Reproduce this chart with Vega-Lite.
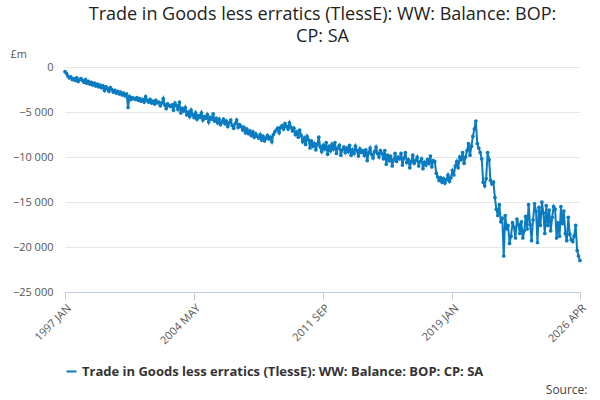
{"$schema":"https://vega.github.io/schema/vega-lite/v6.json","width":515,"height":225,"padding":{"left":10,"top":6,"right":17,"bottom":0},"autosize":{"type":"pad"},
"title":{"text":["Trade in Goods less erratics (TlessE): WW: Balance: BOP:","CP: SA"],"font":"Open Sans","fontSize":18,"fontWeight":500,"color":"#222","offset":2,"lineHeight":22},
"config":{"view":{"stroke":null},"font":"Open Sans"},
"data":{"values":[
{"d":"1997-01","v":-500},{"d":"1997-02","v":-700},{"d":"1997-03","v":-1000},{"d":"1997-04","v":-1200},{"d":"1997-05","v":-1100},{"d":"1997-06","v":-1400},{"d":"1997-07","v":-1300},{"d":"1997-08","v":-1500},{"d":"1997-09","v":-1200},{"d":"1997-10","v":-1600},{"d":"1997-11","v":-1400},{"d":"1997-12","v":-1300},
{"d":"1998-01","v":-1500},{"d":"1998-02","v":-1700},{"d":"1998-03","v":-1400},{"d":"1998-04","v":-1800},{"d":"1998-05","v":-1600},{"d":"1998-06","v":-1900},{"d":"1998-07","v":-1700},{"d":"1998-08","v":-2000},{"d":"1998-09","v":-1800},{"d":"1998-10","v":-2100},{"d":"1998-11","v":-1900},{"d":"1998-12","v":-2200},
{"d":"1999-01","v":-2000},{"d":"1999-02","v":-2300},{"d":"1999-03","v":-2100},{"d":"1999-04","v":-2600},{"d":"1999-05","v":-2200},{"d":"1999-06","v":-2400},{"d":"1999-07","v":-2700},{"d":"1999-08","v":-2300},{"d":"1999-09","v":-2500},{"d":"1999-10","v":-2800},{"d":"1999-11","v":-2600},{"d":"1999-12","v":-2900},
{"d":"2000-01","v":-2700},{"d":"2000-02","v":-3000},{"d":"2000-03","v":-2800},{"d":"2000-04","v":-3100},{"d":"2000-05","v":-2900},{"d":"2000-06","v":-3200},{"d":"2000-07","v":-3000},{"d":"2000-08","v":-4500},{"d":"2000-09","v":-3300},{"d":"2000-10","v":-3600},{"d":"2000-11","v":-3400},{"d":"2000-12","v":-3500},
{"d":"2001-01","v":-3600},{"d":"2001-02","v":-3400},{"d":"2001-03","v":-3700},{"d":"2001-04","v":-3500},{"d":"2001-05","v":-3800},{"d":"2001-06","v":-3600},{"d":"2001-07","v":-3900},{"d":"2001-08","v":-3300},{"d":"2001-09","v":-3700},{"d":"2001-10","v":-3900},{"d":"2001-11","v":-3600},{"d":"2001-12","v":-4000},
{"d":"2002-01","v":-3800},{"d":"2002-02","v":-4100},{"d":"2002-03","v":-3700},{"d":"2002-04","v":-4000},{"d":"2002-05","v":-3900},{"d":"2002-06","v":-4300},{"d":"2002-07","v":-4000},{"d":"2002-08","v":-3500},{"d":"2002-09","v":-4200},{"d":"2002-10","v":-4600},{"d":"2002-11","v":-4100},{"d":"2002-12","v":-4300},
{"d":"2003-01","v":-4400},{"d":"2003-02","v":-4200},{"d":"2003-03","v":-4800},{"d":"2003-04","v":-4000},{"d":"2003-05","v":-4300},{"d":"2003-06","v":-4700},{"d":"2003-07","v":-3900},{"d":"2003-08","v":-5100},{"d":"2003-09","v":-4600},{"d":"2003-10","v":-4900},{"d":"2003-11","v":-4500},{"d":"2003-12","v":-5300},
{"d":"2004-01","v":-5000},{"d":"2004-02","v":-5500},{"d":"2004-03","v":-4800},{"d":"2004-04","v":-5300},{"d":"2004-05","v":-5600},{"d":"2004-06","v":-5100},{"d":"2004-07","v":-5800},{"d":"2004-08","v":-5400},{"d":"2004-09","v":-5600},{"d":"2004-10","v":-5100},{"d":"2004-11","v":-5900},{"d":"2004-12","v":-5500},
{"d":"2005-01","v":-5700},{"d":"2005-02","v":-5300},{"d":"2005-03","v":-6100},{"d":"2005-04","v":-5600},{"d":"2005-05","v":-5800},{"d":"2005-06","v":-5200},{"d":"2005-07","v":-6000},{"d":"2005-08","v":-5700},{"d":"2005-09","v":-6200},{"d":"2005-10","v":-5800},{"d":"2005-11","v":-6400},{"d":"2005-12","v":-6100},
{"d":"2006-01","v":-5800},{"d":"2006-02","v":-6300},{"d":"2006-03","v":-6000},{"d":"2006-04","v":-6600},{"d":"2006-05","v":-6200},{"d":"2006-06","v":-5900},{"d":"2006-07","v":-6500},{"d":"2006-08","v":-6800},{"d":"2006-09","v":-6300},{"d":"2006-10","v":-5900},{"d":"2006-11","v":-6700},{"d":"2006-12","v":-6400},
{"d":"2007-01","v":-6600},{"d":"2007-02","v":-7000},{"d":"2007-03","v":-6700},{"d":"2007-04","v":-7300},{"d":"2007-05","v":-6900},{"d":"2007-06","v":-7400},{"d":"2007-07","v":-7100},{"d":"2007-08","v":-7600},{"d":"2007-09","v":-7200},{"d":"2007-10","v":-7800},{"d":"2007-11","v":-7400},{"d":"2007-12","v":-7700},
{"d":"2008-01","v":-7900},{"d":"2008-02","v":-7500},{"d":"2008-03","v":-8100},{"d":"2008-04","v":-7700},{"d":"2008-05","v":-8200},{"d":"2008-06","v":-7900},{"d":"2008-07","v":-7600},{"d":"2008-08","v":-8000},{"d":"2008-09","v":-7800},{"d":"2008-10","v":-8300},{"d":"2008-11","v":-7500},{"d":"2008-12","v":-7200},
{"d":"2009-01","v":-7000},{"d":"2009-02","v":-6800},{"d":"2009-03","v":-7300},{"d":"2009-04","v":-6700},{"d":"2009-05","v":-6500},{"d":"2009-06","v":-6900},{"d":"2009-07","v":-6300},{"d":"2009-08","v":-6600},{"d":"2009-09","v":-6900},{"d":"2009-10","v":-6200},{"d":"2009-11","v":-6700},{"d":"2009-12","v":-7100},
{"d":"2010-01","v":-6800},{"d":"2010-02","v":-7500},{"d":"2010-03","v":-7200},{"d":"2010-04","v":-7800},{"d":"2010-05","v":-7000},{"d":"2010-06","v":-7600},{"d":"2010-07","v":-8300},{"d":"2010-08","v":-7900},{"d":"2010-09","v":-8600},{"d":"2010-10","v":-7700},{"d":"2010-11","v":-8100},{"d":"2010-12","v":-9000},
{"d":"2011-01","v":-8200},{"d":"2011-02","v":-8800},{"d":"2011-03","v":-8500},{"d":"2011-04","v":-9200},{"d":"2011-05","v":-8600},{"d":"2011-06","v":-7800},{"d":"2011-07","v":-8900},{"d":"2011-08","v":-9400},{"d":"2011-09","v":-8700},{"d":"2011-10","v":-9100},{"d":"2011-11","v":-8400},{"d":"2011-12","v":-9700},
{"d":"2012-01","v":-8800},{"d":"2012-02","v":-9300},{"d":"2012-03","v":-8600},{"d":"2012-04","v":-9100},{"d":"2012-05","v":-8400},{"d":"2012-06","v":-9600},{"d":"2012-07","v":-9000},{"d":"2012-08","v":-8700},{"d":"2012-09","v":-9800},{"d":"2012-10","v":-9200},{"d":"2012-11","v":-8900},{"d":"2012-12","v":-9500},
{"d":"2013-01","v":-9000},{"d":"2013-02","v":-9400},{"d":"2013-03","v":-8700},{"d":"2013-04","v":-9800},{"d":"2013-05","v":-9200},{"d":"2013-06","v":-9600},{"d":"2013-07","v":-8800},{"d":"2013-08","v":-9300},{"d":"2013-09","v":-9900},{"d":"2013-10","v":-9100},{"d":"2013-11","v":-9500},{"d":"2013-12","v":-9300},
{"d":"2014-01","v":-9800},{"d":"2014-02","v":-9200},{"d":"2014-03","v":-10400},{"d":"2014-04","v":-9500},{"d":"2014-05","v":-9000},{"d":"2014-06","v":-9700},{"d":"2014-07","v":-10100},{"d":"2014-08","v":-9400},{"d":"2014-09","v":-8900},{"d":"2014-10","v":-9600},{"d":"2014-11","v":-10000},{"d":"2014-12","v":-9300},
{"d":"2015-01","v":-9600},{"d":"2015-02","v":-10200},{"d":"2015-03","v":-9300},{"d":"2015-04","v":-10800},{"d":"2015-05","v":-9800},{"d":"2015-06","v":-10400},{"d":"2015-07","v":-9900},{"d":"2015-08","v":-11000},{"d":"2015-09","v":-10300},{"d":"2015-10","v":-9600},{"d":"2015-11","v":-10500},{"d":"2015-12","v":-10000},
{"d":"2016-01","v":-10200},{"d":"2016-02","v":-9600},{"d":"2016-03","v":-10900},{"d":"2016-04","v":-10100},{"d":"2016-05","v":-9500},{"d":"2016-06","v":-10600},{"d":"2016-07","v":-10300},{"d":"2016-08","v":-11200},{"d":"2016-09","v":-10500},{"d":"2016-10","v":-9800},{"d":"2016-11","v":-10700},{"d":"2016-12","v":-10400},
{"d":"2017-01","v":-10000},{"d":"2017-02","v":-11000},{"d":"2017-03","v":-10500},{"d":"2017-04","v":-10200},{"d":"2017-05","v":-11300},{"d":"2017-06","v":-10600},{"d":"2017-07","v":-10900},{"d":"2017-08","v":-10300},{"d":"2017-09","v":-10700},{"d":"2017-10","v":-9900},{"d":"2017-11","v":-11100},{"d":"2017-12","v":-10400},
{"d":"2018-01","v":-10500},{"d":"2018-02","v":-11800},{"d":"2018-03","v":-12200},{"d":"2018-04","v":-12600},{"d":"2018-05","v":-12300},{"d":"2018-06","v":-12800},{"d":"2018-07","v":-12400},{"d":"2018-08","v":-12900},{"d":"2018-09","v":-12500},{"d":"2018-10","v":-12000},{"d":"2018-11","v":-12700},{"d":"2018-12","v":-12300},
{"d":"2019-01","v":-11500},{"d":"2019-02","v":-12000},{"d":"2019-03","v":-11000},{"d":"2019-04","v":-10500},{"d":"2019-05","v":-11200},{"d":"2019-06","v":-10000},{"d":"2019-07","v":-10300},{"d":"2019-08","v":-9500},{"d":"2019-09","v":-10700},{"d":"2019-10","v":-10000},{"d":"2019-11","v":-9300},{"d":"2019-12","v":-8500},
{"d":"2020-01","v":-9800},{"d":"2020-02","v":-8800},{"d":"2020-03","v":-7700},{"d":"2020-04","v":-6900},{"d":"2020-05","v":-6000},{"d":"2020-06","v":-8500},{"d":"2020-07","v":-9000},{"d":"2020-08","v":-9500},{"d":"2020-09","v":-10200},{"d":"2020-10","v":-12800},{"d":"2020-11","v":-13200},{"d":"2020-12","v":-12400},
{"d":"2021-01","v":-9500},{"d":"2021-02","v":-10300},{"d":"2021-03","v":-12600},{"d":"2021-04","v":-13000},{"d":"2021-05","v":-12800},{"d":"2021-06","v":-14500},{"d":"2021-07","v":-15800},{"d":"2021-08","v":-16500},{"d":"2021-09","v":-15300},{"d":"2021-10","v":-17200},{"d":"2021-11","v":-16800},{"d":"2021-12","v":-21000},
{"d":"2022-01","v":-16500},{"d":"2022-02","v":-18000},{"d":"2022-03","v":-17600},{"d":"2022-04","v":-19600},{"d":"2022-05","v":-18800},{"d":"2022-06","v":-17300},{"d":"2022-07","v":-17800},{"d":"2022-08","v":-19000},{"d":"2022-09","v":-16900},{"d":"2022-10","v":-17500},{"d":"2022-11","v":-18500},{"d":"2022-12","v":-17200},
{"d":"2023-01","v":-19000},{"d":"2023-02","v":-18200},{"d":"2023-03","v":-16600},{"d":"2023-04","v":-18000},{"d":"2023-05","v":-15300},{"d":"2023-06","v":-17500},{"d":"2023-07","v":-19300},{"d":"2023-08","v":-17000},{"d":"2023-09","v":-15200},{"d":"2023-10","v":-16000},{"d":"2023-11","v":-19500},{"d":"2023-12","v":-15600},
{"d":"2024-01","v":-17600},{"d":"2024-02","v":-15000},{"d":"2024-03","v":-16200},{"d":"2024-04","v":-18500},{"d":"2024-05","v":-15400},{"d":"2024-06","v":-17600},{"d":"2024-07","v":-15900},{"d":"2024-08","v":-18200},{"d":"2024-09","v":-16700},{"d":"2024-10","v":-15500},{"d":"2024-11","v":-15800},{"d":"2024-12","v":-19000},
{"d":"2025-01","v":-17300},{"d":"2025-02","v":-18800},{"d":"2025-03","v":-15500},{"d":"2025-04","v":-17400},{"d":"2025-05","v":-16000},{"d":"2025-06","v":-18500},{"d":"2025-07","v":-19300},{"d":"2025-08","v":-16700},{"d":"2025-09","v":-18600},{"d":"2025-10","v":-19200},{"d":"2025-11","v":-19400},{"d":"2025-12","v":-18800},
{"d":"2026-01","v":-17600},{"d":"2026-02","v":-20400},{"d":"2026-03","v":-21000},{"d":"2026-04","v":-21500}
]},
"mark":{"type":"line","color":"#0b7bc1","strokeWidth":2,"point":{"filled":true,"size":14,"color":"#0b7bc1"}},
"encoding":{
"x":{"field":"d","type":"temporal","scale":{"domain":[{"year":1997,"month":1,"date":1},{"year":2026,"month":4,"date":1}]},
"axis":{"values":[{"year":1997,"month":1,"date":1},{"year":2004,"month":5,"date":1},{"year":2011,"month":9,"date":1},{"year":2019,"month":1,"date":1},{"year":2026,"month":4,"date":1}],
"labelExpr":"timeFormat(datum.value,'%Y ')+upper(timeFormat(datum.value,'%b'))","labelAngle":-45,"labelAlign":"right","labelFontSize":11,"labelColor":"#555","grid":false,"domainColor":"#c0d0e0","tickColor":"#c0d0e0","tickSize":8,
"title":"Source:","titleAnchor":"end","titleAlign":"right","titleFontWeight":"normal","titleFontSize":12,"titleColor":"#444","titleY":92,"titleX":522}},
"y":{"field":"v","type":"quantitative","scale":{"domain":[-25000,0]},
"axis":{"values":[-25000,-20000,-15000,-10000,-5000,0],"labelExpr":"replace(format(datum.value,','),',',' ')","labelFontSize":11,"labelColor":"#555","domain":false,"ticks":false,"gridColor":"#e6e6e6","labelPadding":12,
"title":"£m","titleAngle":0,"titleAnchor":"end","titleAlign":"left","titleBaseline":"bottom","titleX":-55,"titleY":-8,"titleFontWeight":"normal","titleFontSize":11,"titleColor":"#555"}},
"color":{"datum":"Trade in Goods less erratics (TlessE): WW: Balance: BOP: CP: SA","scale":{"range":["#0b7bc1"]},
"legend":{"orient":"none","legendX":0,"legendY":298,"title":null,"labelFontSize":13,"labelFontWeight":"bold","labelColor":"#333","symbolType":"stroke","symbolStrokeWidth":2,"labelLimit":600}}
}}
